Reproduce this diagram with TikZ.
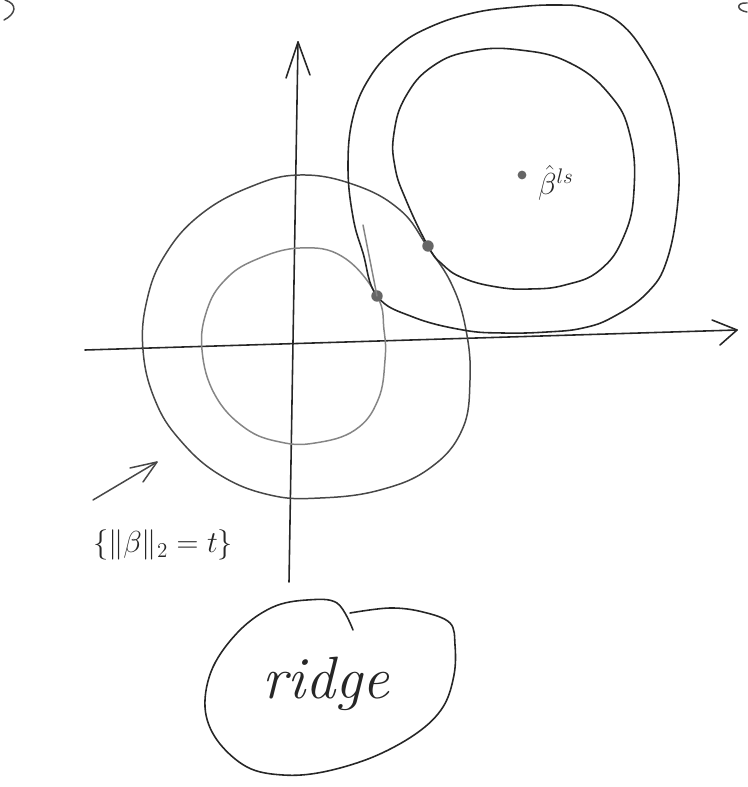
\documentclass[tikz,border=0pt]{standalone}
\usepackage{amsmath}
\begin{document}
\begin{tikzpicture}[x=0.02cm,y=-0.02cm,
  dark/.style={draw=black!85,line width=0.9pt,line cap=round,line join=round},
  mid/.style={draw=black!72,line width=0.85pt,line cap=round,line join=round},
  light/.style={draw=black!48,line width=0.85pt,line cap=round,line join=round},
  pt/.style={circle,fill=black!60,inner sep=0pt,minimum size=6.5pt},
  lbl/.style={inner sep=0pt,text=black!85}]
\useasboundingbox (0,0) rectangle (747,787);
% axes
\coordinate (yb) at (289,582);
\coordinate (yt) at (298,42);
\coordinate (xl) at (85,350);
\coordinate (xr) at (737,330);
\draw[dark] (yb) -- (yt);
\draw[dark] (286,78) -- (yt) -- (310,75);
\draw[dark] (xl) -- (xr);
\draw[dark] (712,320) -- (xr) -- (720,345);
% left outer contour {||b||_2 = t}
\draw[mid] plot[smooth cycle,tension=0.7] coordinates {
 (300,175) (355,185) (400,210) (427,246) (452,285) (466,330) (470,380)
 (462,430) (430,468) (380,490) (320,498) (270,495) (220,475) (180,440)
 (155,400) (143,350) (147,300) (165,255) (200,215) (250,187)};
% left inner contour
\draw[light] plot[smooth cycle,tension=0.7] coordinates {
 (300,248) (343,257) (377,296) (384,330) (385,360) (378,400) (355,430)
 (315,443) (280,442) (245,428) (215,395) (202,350) (207,310) (225,280) (255,260)};
% right outer contour
\draw[dark] plot[smooth cycle,tension=0.7] coordinates {
 (377,296) (413,317) (463,330) (503,333) (547,332) (583,328) (613,317)
 (647,293) (667,260) (678,200) (677,150) (667,100) (647,57) (620,23)
 (587,8) (557,5) (517,7) (473,13) (430,27) (397,47) (370,77) (353,117)
 (348,167) (353,217) (363,253)};
% right inner contour
\draw[dark] plot[smooth cycle,tension=0.75] coordinates {
 (428,246) (442,264) (463,278) (497,287) (530,289) (565,285) (600,270)
 (624,236) (634,190) (630,135) (610,95) (570,63) (520,50) (472,51)
 (433,66) (406,96) (394,133) (395,167) (406,200)};
% tangent stroke
\coordinate (ts) at (363,225);
\node[pt] (p1) at (377,296) {};
\node[pt] (p2) at (428,246) {};
\draw[light] (ts) -- (p1.center);
% least squares estimate
\node[pt,minimum size=5pt] (bls) at (522,175) {};
\node[lbl,font=\fontsize{17}{20}\selectfont] (blab) at (556,183) {$\hat{\beta}^{ls}$};
% constraint label and arrow
\node[lbl,font=\fontsize{17}{20}\selectfont] (clab) at (163,545) {$\{\|\beta\|_2=t\}$};
\coordinate (at) at (93,500);
\coordinate (ah) at (157,462);
\draw[mid] (at) -- (ah);
\draw[mid] (130,468) -- (ah) -- (143,482);
% ridge blob
\draw[dark] plot[smooth,tension=0.6] coordinates {
 (353,630) (337,603) (307,600) (273,607) (240,630) (213,667) (205,707)
 (217,740) (247,767) (283,775) (323,772) (373,757) (417,733) (443,707)
 (454,675) (455,645) (450,623) (423,612) (390,608) (350,613)};
\node[lbl,font=\fontsize{34}{40}\selectfont\itshape] (ridge) at (326,684) {ridge};
% cut-off marks at the top corners
\draw[mid] (5,0) .. controls (18,4) and (16,14) .. (4,20);
\draw[mid] (747,3) .. controls (737,2) and (735,10) .. (747,12);
\end{tikzpicture}
\end{document}
